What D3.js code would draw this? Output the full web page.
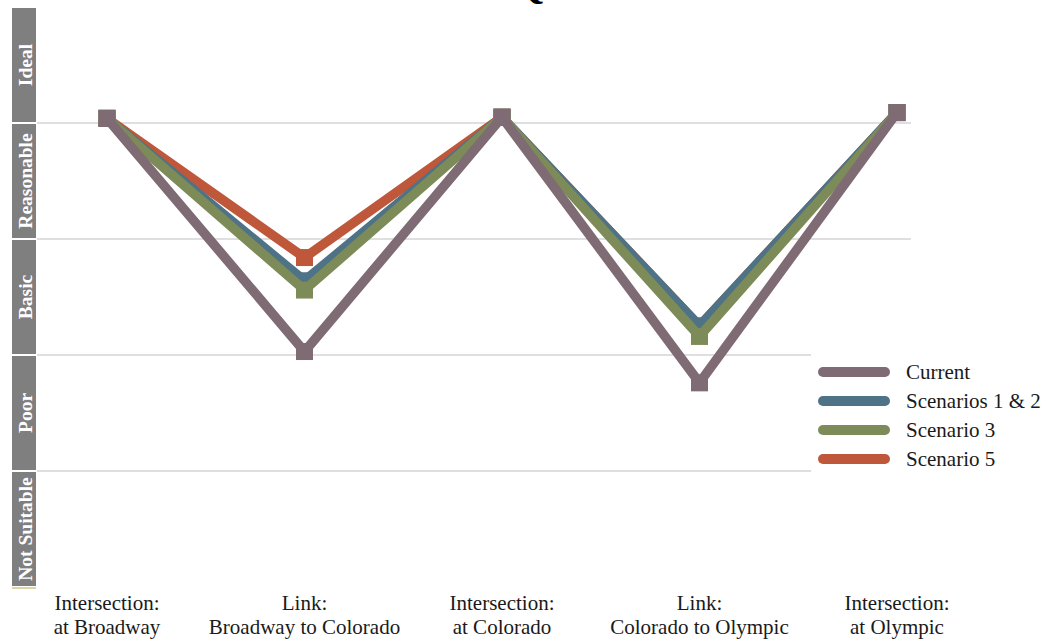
<!DOCTYPE html>
<html>
<head>
<meta charset="utf-8">
<script src="https://cdn.jsdelivr.net/npm/d3@7"></script>
<style>
  html, body { margin: 0; padding: 0; background: #fff; }
  svg { display: block; }
</style>
</head>
<body>
<svg id="chart" width="1051" height="641"></svg>
<script>
// Segments along the corridor (x axis)
const categories = [
  ["Intersection:", "at Broadway"],
  ["Link:", "Broadway to Colorado"],
  ["Intersection:", "at Colorado"],
  ["Link:", "Colorado to Olympic"],
  ["Intersection:", "at Olympic"]
];

// Quality bands, bottom to top
const levels = ["Not Suitable", "Poor", "Basic", "Reasonable", "Ideal"];

// Index scores per segment
const current     = [4.04, 2.03, 4.05, 1.76, 4.09];
const scenarios12 = [4.04, 2.64, 4.05, 2.25, 4.09];
const scenario3   = [4.04, 2.56, 4.05, 2.16, 4.09];
const scenario5   = [4.04, 2.84, 4.05, 2.25, 4.09];

const seriesNames  = ["Current", "Scenarios 1 & 2", "Scenario 3", "Scenario 5"];
const seriesColors = ["#7f6b74", "#4e7286", "#7d8b58", "#bf573a"];
const seriesValues = [current, scenarios12, scenario3, scenario5];

const svg = d3.select("#chart");
const keys = categories.map((c, i) => i);

const x = d3.scalePoint().domain(keys).range([107, 897]);
const y = d3.scaleLinear().domain([0, 5]).range([587, 7]);

// Title (sits at the top edge)
svg.append("text")
  .attr("x", 510).attr("y", -2)
  .attr("text-anchor", "middle")
  .attr("font-family", "Liberation Serif, Times New Roman, serif")
  .attr("font-weight", "bold")
  .attr("font-size", 40)
  .attr("fill", "#000")
  .text("BEQI");

// Horizontal gridlines at band boundaries
const gridEnds = {1: 811, 2: 811, 3: 911, 4: 911};
svg.append("g").selectAll("line")
  .data([1, 2, 3, 4])
  .join("line")
  .attr("x1", 37).attr("x2", d => gridEnds[d])
  .attr("y1", d => y(d)).attr("y2", d => y(d))
  .attr("stroke", "#d4d4d4").attr("stroke-width", 1.3);

// Band labels on the left
const bands = svg.append("g");
levels.forEach((name, i) => {
  const top = y(i + 1), bottom = y(i);
  bands.append("rect")
    .attr("x", 12).attr("width", 24)
    .attr("y", top + 1).attr("height", bottom - top - 2)
    .attr("fill", "#7f7f7f");
  bands.append("text")
    .attr("transform", `translate(31.5,${(top + bottom) / 2}) rotate(-90)`)
    .attr("text-anchor", "middle")
    .attr("font-family", "Liberation Serif, Times New Roman, serif")
    .attr("font-weight", "bold")
    .attr("font-size", 19.5)
    .attr("fill", "#fff")
    .text(name);
});
svg.append("line")
  .attr("x1", 12).attr("x2", 36)
  .attr("y1", y(0) + 1).attr("y2", y(0) + 1)
  .attr("stroke", "#c9b86a").attr("stroke-width", 1.2);

// Category labels
const xl = svg.append("g");
categories.forEach((lines, i) => {
  const t = xl.append("text")
    .attr("text-anchor", "middle")
    .attr("font-family", "Liberation Serif, Times New Roman, serif")
    .attr("font-size", 21)
    .attr("fill", "#1a1a1a");
  lines.forEach((l, j) => {
    t.append("tspan").attr("x", x(i)).attr("y", 610 + j * 24).text(l);
  });
});

// Series lines and markers (drawn back to front)
const line = d3.line().x((d, i) => x(i)).y(d => y(d)).curve(d3.curveLinear);
const drawOrder = [3, 1, 2, 0];
const plot = svg.append("g");
drawOrder.forEach(s => {
  const g = plot.append("g");
  g.append("path")
    .attr("d", line(seriesValues[s]))
    .attr("fill", "none")
    .attr("stroke", seriesColors[s])
    .attr("stroke-width", 9.5)
    .attr("stroke-linejoin", "miter");
  const m = 17;
  g.selectAll("rect")
    .data(seriesValues[s])
    .join("rect")
    .attr("x", (d, i) => x(i) - m / 2)
    .attr("y", d => y(d) - m / 2)
    .attr("width", m).attr("height", m)
    .attr("fill", seriesColors[s]);
});

// Legend
const legend = svg.append("g");
legend.append("rect")
  .attr("x", 811).attr("y", 350).attr("width", 240).attr("height", 128)
  .attr("fill", "#fff");
seriesNames.forEach((name, i) => {
  const ly = 372 + i * 29;
  legend.append("line")
    .attr("x1", 823).attr("x2", 885)
    .attr("y1", ly).attr("y2", ly)
    .attr("stroke", seriesColors[i])
    .attr("stroke-width", 10)
    .attr("stroke-linecap", "round");
  legend.append("text")
    .attr("x", 906).attr("y", ly + 7)
    .attr("font-family", "Liberation Serif, Times New Roman, serif")
    .attr("font-size", 21)
    .attr("fill", "#1a1a1a")
    .text(name);
});
</script>
</body>
</html>
